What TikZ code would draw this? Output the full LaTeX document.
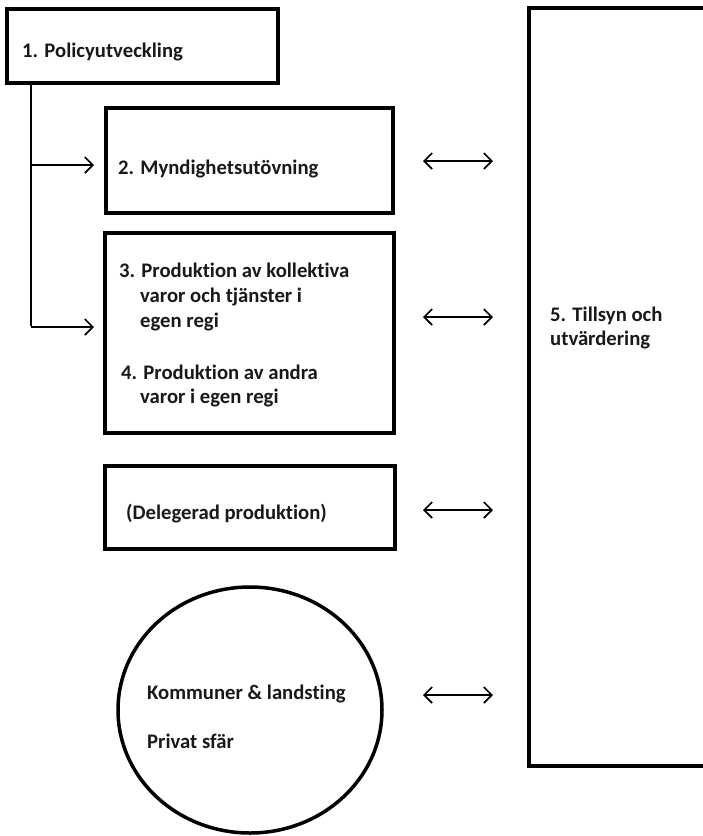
\documentclass[tikz,border=0pt]{standalone}
\usepackage{fontspec}
\setmainfont{Carlito}[RawFeature=-liga]
\usetikzlibrary{arrows.meta,shapes.geometric}
\begin{document}
\begin{tikzpicture}[x=1pt,y=-1pt,
  box/.style={draw, line width=3.5pt, rectangle, inner sep=0pt},
  lbl/.style={anchor=base west, inner sep=0pt, text=black!90, font=\bfseries\fontsize{20.7}{24.8}\selectfont},
  dbl/.style={{Straight Barb[length=8pt,width=16pt]}-{Straight Barb[length=8pt,width=16pt]}, line width=1.7pt},
  one/.style={-{Straight Barb[length=8pt,width=16pt]}, line width=1.7pt},
  conn/.style={line width=2pt}]
\useasboundingbox (0,0) rectangle (703,836);
\clip (0,0) rectangle (703,836);
\fill[white] (0,0) rectangle (703,836);

% boxes
\node[box, minimum width=271pt, minimum height=74pt] (b1) at (142.5,46) {};
\node[box, minimum width=287pt, minimum height=105pt] (b2) at (249.5,160.5) {};
\node[box, minimum width=289pt, minimum height=200pt] (b3) at (249.5,333) {};
\node[box, minimum width=290pt, minimum height=83pt] (bd) at (250,507.5) {};
\node[draw, ellipse, line width=3.5pt, inner sep=0pt, minimum width=264pt, minimum height=246pt] (ci) at (250,710) {};
\node[box, minimum width=191pt, minimum height=758pt] (b5) at (624.5,387) {};

% texts
\node[lbl] (t1) at (22,57) {1. Policyutveckling};
\node[lbl] (t2) at (118,174) {2. Myndighetsutövning};
\node[lbl] (t3a) at (119,277) {3. Produktion av kollektiva};
\node[lbl] (t3b) at (140,302) {varor och tjänster i};
\node[lbl] (t3c) at (140,327) {egen regi};
\node[lbl] (t4a) at (121,379) {4. Produktion av andra};
\node[lbl] (t4b) at (140,403) {varor i egen regi};
\node[lbl] (td) at (126,519) {(Delegerad produktion)};
\node[lbl] (tk) at (147,699) {Kommuner \& landsting};
\node[lbl] (tp) at (147,748) {Privat sfär};
\node[lbl] (t5a) at (550,321) {5. Tillsyn och};
\node[lbl] (t5b) at (550,345) {utvärdering};

% connector from box 1
\coordinate (top) at (31,83);
\coordinate (j2) at (31,165);
\coordinate (j3) at (31,327);
\coordinate (e2) at (94,165);
\coordinate (e3) at (94,327);
\draw[conn] (top) -- ([yshift=0.9pt]j3);
\draw[one] (j2) -- (e2);
\draw[one] (j3) -- (e3);

% double arrows
\coordinate (l1) at (423,161); \coordinate (r1) at (493,161);
\coordinate (l2) at (423,317); \coordinate (r2) at (493,317);
\coordinate (l3) at (423,510); \coordinate (r3) at (493,510);
\coordinate (l4) at (423,695); \coordinate (r4) at (493,695);
\draw[dbl] (l1) -- (r1);
\draw[dbl] (l2) -- (r2);
\draw[dbl] (l3) -- (r3);
\draw[dbl] (l4) -- (r4);
\end{tikzpicture}
\end{document}
